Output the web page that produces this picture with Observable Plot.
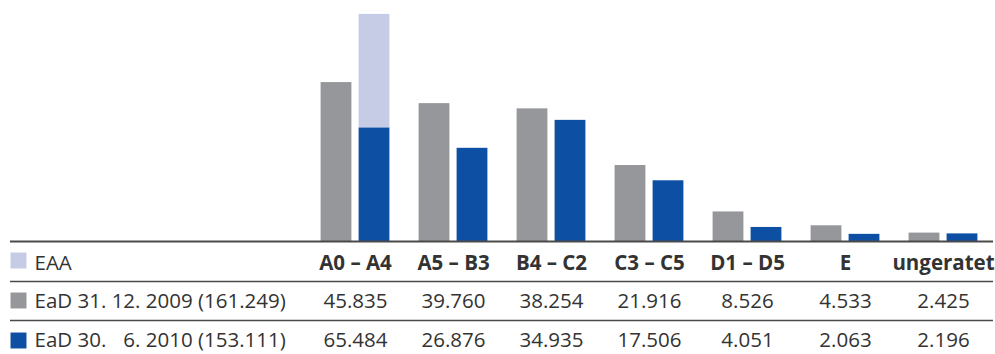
<!DOCTYPE html>
<html>
<head>
<meta charset="utf-8">
<script src="https://cdn.jsdelivr.net/npm/d3@7"></script>
<script src="https://cdn.jsdelivr.net/npm/@observablehq/plot@0.6"></script>
<style>
  html, body { margin: 0; padding: 0; background: #fff; }
  svg text { white-space: pre; }
</style>
</head>
<body>
<div id="chart"></div>
<script>
// ---- data ----
const categories = ["A0 – A4", "A5 – B3", "B4 – C2", "C3 – C5", "D1 – D5", "E", "ungeratet"];
const ead2009 = [45.835, 39.760, 38.254, 21.916, 8.526, 4.533, 2.425];
const ead2010 = [65.484, 26.876, 34.935, 17.506, 4.051, 2.063, 2.196];
// EAA share contained in the 30.6.2010 bar
const eaa = [32.7, 0, 0, 0, 0, 0, 0];
const seriesLabels = ["EAA", "EaD 31. 12. 2009 (161.249)", "EaD 30. \u20076. 2010 (153.111)"];
const seriesColors = ["#c6cbe6", "#96979b", "#0d4fa3"];

// ---- derived tables ----
const bars2009 = categories.map((c, i) => ({cat: c, series: seriesLabels[1], value: ead2009[i]}));
const bars2010 = categories.flatMap((c, i) => [
  {cat: c, series: seriesLabels[2], value: ead2010[i] - eaa[i]},
  {cat: c, series: seriesLabels[0], value: eaa[i]}
]).filter(d => d.value > 0);
const rows2009 = categories.map((c, i) => ({cat: c, v: ead2009[i]}));
const rows2010 = categories.map((c, i) => ({cat: c, v: ead2010[i]}));

const font = "'Open Sans', sans-serif";
const fs = 20.5;
const textColor = "#333";
const ruleColor = "#4a4a4a";
const fmt = v => v.toFixed(3);

// table row layout (offsets below the baseline)
const rowText = [21.5, 60, 99];
const rowSwatch = [19, 59, 99];
const rowRules = [40, 79];

const marks = [
  Plot.barY(bars2009, {x: "cat", y: "value", fill: "series", insetLeft: 14.6, insetRight: 52.6}),
  Plot.barY(bars2010, {x: "cat", y: "value", fill: "series", insetLeft: 52.6, insetRight: 14.6}),
  Plot.ruleY([0], {stroke: ruleColor, strokeWidth: 2}),
  ...rowRules.map(dy => Plot.ruleY([0], {stroke: ruleColor, strokeWidth: 1.6, dy})),
  Plot.axisX({anchor: "bottom", tickSize: 0, tickPadding: 14, label: null, fontWeight: "bold", fontSize: fs, fill: textColor}),
  Plot.text(rows2009, {x: "cat", text: d => fmt(d.v), frameAnchor: "bottom", dy: rowText[1], lineAnchor: "middle", fontSize: fs, fill: textColor}),
  Plot.text(rows2010, {x: "cat", text: d => fmt(d.v), frameAnchor: "bottom", dy: rowText[2], lineAnchor: "middle", fontSize: fs, fill: textColor}),
  ...seriesLabels.flatMap((lab, i) => [
    Plot.dot([lab], {frameAnchor: "bottom-left", dx: 8, dy: rowSwatch[i], symbol: "square", r: 9, fill: d => d, stroke: null}),
    Plot.text([lab], {frameAnchor: "bottom-left", dx: 24, dy: rowText[i], text: d => d, textAnchor: "start", lineAnchor: "middle", fontSize: fs, fill: textColor})
  ])
];

const chart = Plot.plot({
  width: 995,
  height: 354,
  marginLeft: 10,
  marginRight: 2,
  marginTop: 0,
  marginBottom: 113,
  style: {fontFamily: font, background: "#fff", color: textColor},
  x: {type: "band", domain: categories, range: [305.4, 992.9], padding: 0, axis: null},
  y: {domain: [0, 69.5], axis: null},
  color: {domain: seriesLabels, range: seriesColors},
  marks
});
document.getElementById("chart").appendChild(chart);
</script>
</body>
</html>
